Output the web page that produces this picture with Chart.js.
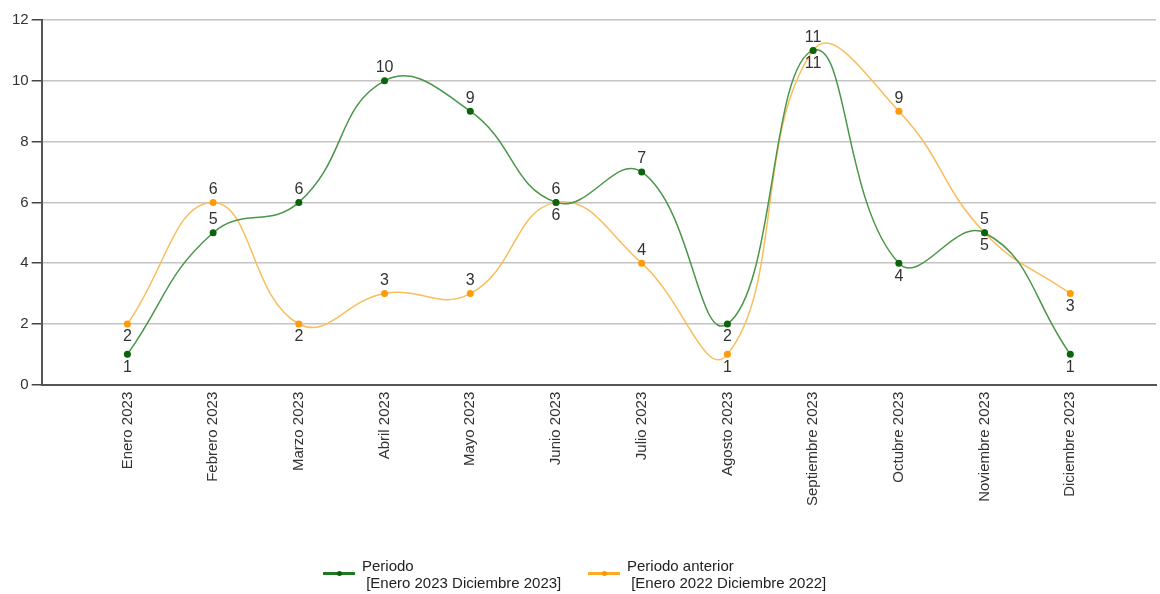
<!DOCTYPE html>
<html>
<head>
<meta charset="utf-8">
<script src="https://cdn.jsdelivr.net/npm/chart.js@4/dist/chart.umd.min.js"></script>
<style>
  html, body { margin: 0; padding: 0; background: #fff; }
  #wrap { position: relative; width: 1160px; height: 594px; }
  #chart { position: absolute; left: 0; top: 0; }
  .legend { position: absolute; top: 557px; font-family: "Liberation Sans", Arial, sans-serif; font-size: 15px; color: #222; line-height: 17px; }
  .legend .sym { position: absolute; left: 0; top: 15px; width: 32px; height: 3px; }
  .legend .sym i { position: absolute; left: 14px; top: -1px; width: 5px; height: 5px; border-radius: 50%; }
  .legend .txt { margin-left: 39px; white-space: pre; }
</style>
</head>
<body>
<div id="wrap">
  <canvas id="chart" width="1160" height="594"></canvas>
  <div class="legend" style="left:323px">
    <div class="sym" style="background:#1f7a1f"><i style="background:#0b5e0b"></i></div>
    <div class="txt">Periodo
 [Enero 2023 Diciembre 2023]</div>
  </div>
  <div class="legend" style="left:588px">
    <div class="sym" style="background:#ffa928"><i style="background:#ff9400"></i></div>
    <div class="txt">Periodo anterior
 [Enero 2022 Diciembre 2022]</div>
  </div>
</div>
<script>
// Data
const months = ["Enero 2023", "Febrero 2023", "Marzo 2023", "Abril 2023", "Mayo 2023", "Junio 2023",
  "Julio 2023", "Agosto 2023", "Septiembre 2023", "Octubre 2023", "Noviembre 2023", "Diciembre 2023"];
const periodo = [1, 5, 6, 10, 9, 6, 7, 2, 11, 4, 5, 1];
const periodoAnterior = [2, 6, 2, 3, 3, 6, 4, 1, 11, 9, 5, 3];
const yTicks = [0, 2, 4, 6, 8, 10, 12];

// where each value label sits (t = above, b = below the point)
const periodoLabelSide = ["b", "t", "t", "t", "t", "b", "t", "b", "b", "b", "t", "b"];
const anteriorLabelSide = ["b", "t", "b", "t", "t", "t", "t", "b", "t", "t", "b", "b"];

const toPoints = (arr) => arr.map((v, i) => ({ x: i + 1, y: v }));

// value labels plugin
const valueLabels = {
  id: "valueLabels",
  afterDatasetsDraw(chart) {
    const { ctx } = chart;
    ctx.save();
    ctx.font = "16px 'Liberation Sans', Arial, sans-serif";
    ctx.fillStyle = "#333";
    ctx.textAlign = "center";
    chart.data.datasets.forEach((ds, di) => {
      const meta = chart.getDatasetMeta(di);
      meta.data.forEach((pt, i) => {
        const side = ds.labelSide[i];
        ctx.textBaseline = side === "t" ? "bottom" : "top";
        const y = side === "t" ? pt.y - 5 : pt.y + 5;
        ctx.fillText(String(ds.data[i].y), pt.x, y);
      });
    });
    ctx.restore();
  },
};

const ctx = document.getElementById("chart");
new Chart(ctx, {
  type: "line",
  data: {
    datasets: [
      {
        label: "Periodo",
        data: toPoints(periodo),
        labelSide: periodoLabelSide,
        borderColor: "#4a964a",
        backgroundColor: "#0b640b",
        pointBackgroundColor: "#0b640b",
        pointBorderWidth: 0,
        pointRadius: 3.5,
        borderWidth: 1.5,
        tension: 0.45,
        fill: false,
      },
      {
        label: "Periodo anterior",
        data: toPoints(periodoAnterior),
        labelSide: anteriorLabelSide,
        borderColor: "#f9bd5c",
        backgroundColor: "#ff9a0a",
        pointBackgroundColor: "#ff9a0a",
        pointBorderWidth: 0,
        pointRadius: 3.5,
        borderWidth: 1.5,
        tension: 0.45,
        fill: false,
      },
    ],
  },
  options: {
    responsive: false,
    animation: false,
    layout: { padding: { left: 9, right: 2, top: 20, bottom: 88 } },
    plugins: { legend: { display: false }, tooltip: { enabled: false } },
    scales: {
      x: {
        type: "linear",
        min: 0,
        max: 13,
        afterBuildTicks: (axis) => {
          axis.ticks = months.map((m, i) => ({ value: i + 1 })).concat([{ value: 0 }]);
        },
        ticks: {
          autoSkip: false,
          maxRotation: 90,
          minRotation: 90,
          color: "#333",
          padding: 0,
          font: { family: "'Liberation Sans', Arial, sans-serif", size: 15 },
          callback: (v) => months[v - 1] || "",
        },
        grid: { display: false, drawTicks: true, tickLength: 7, tickColor: "#444" },
        border: { color: "#555", width: 2 },
      },
      y: {
        min: 0,
        max: 12,
        afterBuildTicks: (axis) => {
          axis.ticks = yTicks.map((v) => ({ value: v }));
        },
        ticks: {
          color: "#333",
          padding: 3,
          font: { family: "'Liberation Sans', Arial, sans-serif", size: 15 },
        },
        grid: { color: "#c4c4c4", lineWidth: 1.5, tickLength: 10, tickColor: "#444" },
        border: { color: "#555", width: 2 },
      },
    },
  },
  plugins: [valueLabels],
});
</script>
</body>
</html>
